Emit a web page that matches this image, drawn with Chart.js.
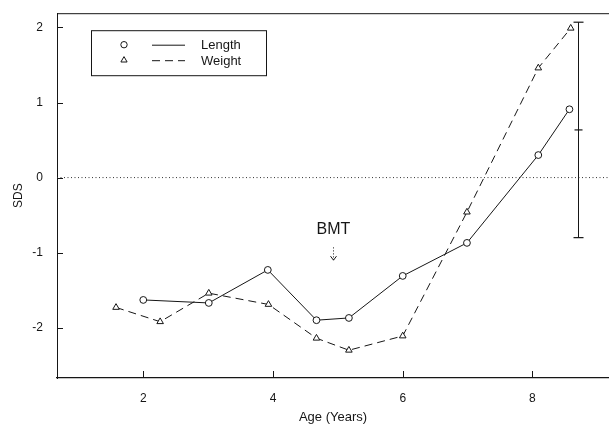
<!DOCTYPE html>
<html>
<head>
<meta charset="utf-8">
<script src="https://cdn.jsdelivr.net/npm/chart.js@4.4.0/dist/chart.umd.min.js"></script>
<style>
  html, body { margin: 0; padding: 0; background: #fff; overflow: hidden; }
  canvas { display: block; }
</style>
</head>
<body>
<canvas id="sdsChart" width="609" height="425"></canvas>
<script>
// Age (years) and SDS
const lengthAge = [2.0, 3.01, 3.92, 4.67, 5.17, 6.0, 6.99, 8.09, 8.57];
const lengthSds = [-1.63, -1.67, -1.23, -1.90, -1.87, -1.31, -0.87, 0.30, 0.91];
const weightAge = [1.58, 2.26, 3.01, 3.93, 4.67, 5.17, 6.0, 6.99, 8.09, 8.59];
const weightSds = [-1.73, -1.92, -1.54, -1.69, -2.14, -2.30, -2.11, -0.46, 1.46, 1.99];

// range bar at the right: low, mean, high
const rangeAge = 8.71;
const rangeSds = [-0.80, 0.635, 2.07];

const bmtAge = 4.93;
const bmtLabel = 'BMT';

const xTicks = [2, 4, 6, 8];
const yTicks = [-2, -1, 0, 1, 2];
const xRange = [0.67, 9.18];
const yRange = [-2.67, 2.19];

const INK = '#161616';
const FONT = "'Liberation Sans', Arial, sans-serif";

const toPoints = (xs, ys) => xs.map((x, i) => ({ x: x, y: ys[i] }));

// frame top, inward ticks, legend box and BMT arrow
const figureDecor = {
    id: 'figureDecor',
    afterDraw(chart) {
        const { ctx, chartArea: a, scales: { x, y } } = chart;
        ctx.save();
        ctx.strokeStyle = INK;
        ctx.lineWidth = 1;
        ctx.setLineDash([]);

        ctx.beginPath();
        ctx.moveTo(a.left, a.top + 0.5);
        ctx.lineTo(a.right, a.top + 0.5);
        x.ticks.forEach(t => {
            const px = Math.round(x.getPixelForValue(t.value)) + 0.5;
            ctx.moveTo(px, a.bottom);
            ctx.lineTo(px, a.bottom - 7);
        });
        y.ticks.forEach(t => {
            const py = Math.round(y.getPixelForValue(t.value)) + 0.5;
            ctx.moveTo(a.left, py);
            ctx.lineTo(a.left + 6, py);
        });
        ctx.stroke();

        // legend
        const lx = a.left + 34, ly = a.top + 17;
        ctx.strokeRect(lx + 0.5, ly + 0.5, 175, 45);
        const rows = [
            { style: 'circle', dash: [], text: 'Length', r: 3.2 },
            { style: 'triangle', dash: [8, 5], text: 'Weight', r: 3.6 }
        ];
        ctx.font = '13px ' + FONT;
        ctx.textBaseline = 'middle';
        rows.forEach((row, i) => {
            const cy = ly + 14.5 + i * 15.5;
            ctx.setLineDash([]);
            ctx.fillStyle = '#fff';
            Chart.helpers.drawPoint(ctx, { pointStyle: row.style, radius: row.r, rotation: 0, borderWidth: 1 }, lx + 33, cy);
            ctx.setLineDash(row.dash);
            ctx.beginPath();
            ctx.moveTo(lx + 61, cy + 0.5);
            ctx.lineTo(lx + 94, cy + 0.5);
            ctx.stroke();
            ctx.fillStyle = INK;
            ctx.fillText(row.text, lx + 110, cy + 1);
        });

        // BMT marker
        const bx = Math.round(x.getPixelForValue(bmtAge)) + 0.5;
        ctx.font = '16px ' + FONT;
        ctx.textAlign = 'center';
        ctx.fillText(bmtLabel, bx, y.getPixelForValue(-0.69));
        const top = y.getPixelForValue(-0.93);
        const tip = y.getPixelForValue(-1.1);
        ctx.setLineDash([1, 2]);
        ctx.beginPath();
        ctx.moveTo(bx, top);
        ctx.lineTo(bx, tip);
        ctx.stroke();
        ctx.setLineDash([]);
        ctx.beginPath();
        ctx.moveTo(bx - 3, tip - 4);
        ctx.lineTo(bx, tip);
        ctx.lineTo(bx + 3, tip - 4);
        ctx.stroke();
        ctx.restore();
    }
};

new Chart(document.getElementById('sdsChart'), {
    type: 'scatter',
    data: {
        datasets: [
            {
                label: 'zero',
                data: toPoints(xRange, [0, 0]),
                showLine: true,
                borderColor: '#333',
                borderWidth: 1,
                borderDash: [1, 2.5],
                pointRadius: 0
            },
            {
                label: 'Length',
                data: toPoints(lengthAge, lengthSds),
                showLine: true,
                borderColor: INK,
                borderWidth: 1,
                pointStyle: 'circle',
                pointRadius: 3.4,
                pointBackgroundColor: '#fff',
                pointBorderColor: INK,
                pointBorderWidth: 1,
                clip: false
            },
            {
                label: 'Weight',
                data: toPoints(weightAge, weightSds),
                showLine: true,
                borderColor: INK,
                borderWidth: 1,
                borderDash: [8, 5],
                pointStyle: 'triangle',
                pointRadius: 3.8,
                pointBackgroundColor: '#fff',
                pointBorderColor: INK,
                pointBorderWidth: 1,
                clip: false
            },
            {
                label: 'range',
                data: rangeSds.map(v => ({ x: rangeAge, y: v })),
                showLine: true,
                borderColor: INK,
                borderWidth: 1,
                pointStyle: 'line',
                pointRadius: [5, 4, 5],
                pointBorderColor: INK,
                pointBorderWidth: 1.2,
                clip: false
            }
        ]
    },
    options: {
        responsive: false,
        animation: false,
        devicePixelRatio: 1,
        layout: { autoPadding: false, padding: { top: 11, right: 0, left: 0, bottom: 0 } },
        plugins: {
            legend: { display: false },
            tooltip: { enabled: false }
        },
        scales: {
            x: {
                type: 'linear',
                min: xRange[0],
                max: xRange[1],
                afterBuildTicks: s => { s.ticks = xTicks.map(v => ({ value: v })); },
                afterFit: s => { s.height = 47; },
                grid: { display: false },
                border: { display: true, color: INK, width: 1.3 },
                ticks: { color: INK, font: { family: FONT, size: 12 }, padding: 5 },
                title: {
                    display: true,
                    text: 'Age (Years)',
                    color: INK,
                    font: { family: FONT, size: 13 },
                    padding: 0
                }
            },
            y: {
                type: 'linear',
                min: yRange[0],
                max: yRange[1],
                afterBuildTicks: s => { s.ticks = yTicks.map(v => ({ value: v })); },
                afterFit: s => { s.width = 57; },
                grid: { display: false },
                border: { display: true, color: INK, width: 1 },
                ticks: { color: INK, font: { family: FONT, size: 12 }, padding: 6 },
                title: {
                    display: true,
                    text: 'SDS',
                    color: INK,
                    font: { family: FONT, size: 12 },
                    padding: { top: 11 }
                }
            }
        }
    },
    plugins: [figureDecor]
});
</script>
</body>
</html>
